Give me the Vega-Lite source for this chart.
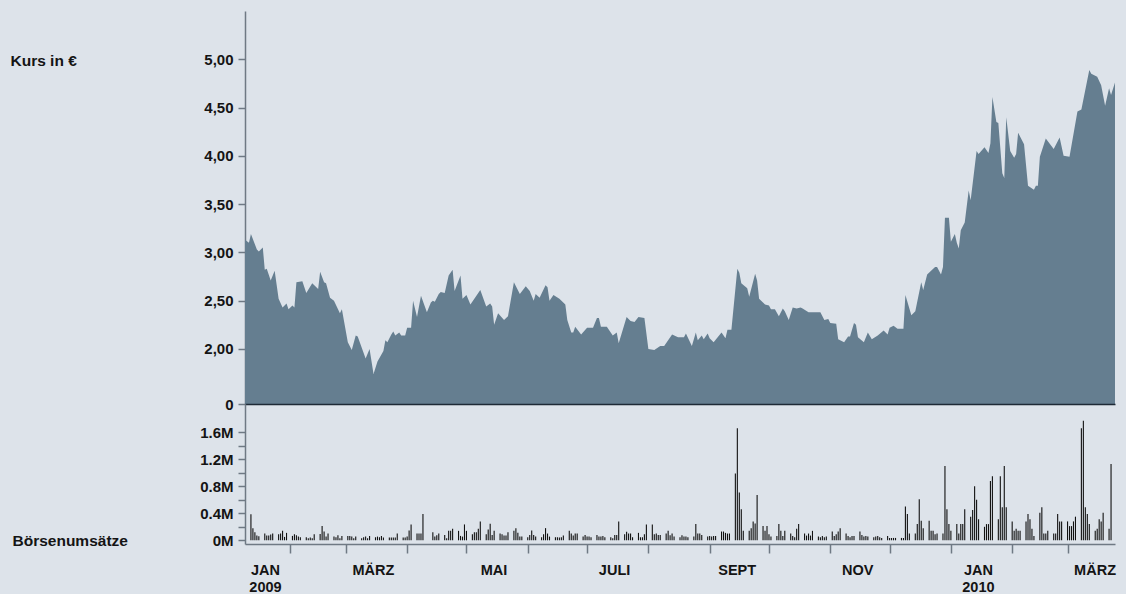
{
"$schema": "https://vega.github.io/schema/vega-lite/v6.json",
"background": "#dde3ea",
"padding": {"left": 10, "top": 11, "right": 10, "bottom": 0},
"bounds": "flush",
"spacing": 0,
"resolve": {"scale": {"x": "independent", "y": "independent"}},
"config": {
  "view": {"stroke": null},
  "font": "Liberation Sans",
  "axis": {"labelFont": "Liberation Sans", "labelFontWeight": "bold", "labelColor": "#141414", "titleFont": "Liberation Sans", "titleFontWeight": "bold", "titleColor": "#141414", "domainColor": "#6f7984", "tickColor": "#6f7984", "domainWidth": 1.5, "tickWidth": 1.5, "grid": false}
},
"datasets": {
"kurs": [
{"Datum":"2009-01-09","Kurs":3.13},{"Datum":"2009-01-11","Kurs":3.10},{"Datum":"2009-01-12","Kurs":3.19},{"Datum":"2009-01-15","Kurs":3.03},{"Datum":"2009-01-16","Kurs":3.01},{"Datum":"2009-01-18","Kurs":3.05},{"Datum":"2009-01-19","Kurs":2.82},{"Datum":"2009-01-20","Kurs":2.83},{"Datum":"2009-01-22","Kurs":2.71},{"Datum":"2009-01-24","Kurs":2.81},{"Datum":"2009-01-26","Kurs":2.52},{"Datum":"2009-01-28","Kurs":2.43},{"Datum":"2009-01-30","Kurs":2.47},{"Datum":"2009-01-31","Kurs":2.41},
{"Datum":"2009-02-02","Kurs":2.45},{"Datum":"2009-02-03","Kurs":2.43},{"Datum":"2009-02-04","Kurs":2.69},{"Datum":"2009-02-07","Kurs":2.70},{"Datum":"2009-02-09","Kurs":2.58},{"Datum":"2009-02-12","Kurs":2.68},{"Datum":"2009-02-15","Kurs":2.62},{"Datum":"2009-02-16","Kurs":2.80},{"Datum":"2009-02-18","Kurs":2.69},{"Datum":"2009-02-19","Kurs":2.68},{"Datum":"2009-02-21","Kurs":2.53},{"Datum":"2009-02-23","Kurs":2.50},{"Datum":"2009-02-26","Kurs":2.37},{"Datum":"2009-02-27","Kurs":2.41},
{"Datum":"2009-03-02","Kurs":2.07},{"Datum":"2009-03-04","Kurs":1.99},{"Datum":"2009-03-06","Kurs":2.14},{"Datum":"2009-03-07","Kurs":2.13},{"Datum":"2009-03-11","Kurs":1.90},{"Datum":"2009-03-13","Kurs":2.00},{"Datum":"2009-03-15","Kurs":1.74},{"Datum":"2009-03-17","Kurs":1.87},{"Datum":"2009-03-20","Kurs":1.98},{"Datum":"2009-03-21","Kurs":2.09},{"Datum":"2009-03-22","Kurs":2.07},{"Datum":"2009-03-24","Kurs":2.15},{"Datum":"2009-03-25","Kurs":2.18},{"Datum":"2009-03-26","Kurs":2.14},{"Datum":"2009-03-28","Kurs":2.17},{"Datum":"2009-03-29","Kurs":2.14},{"Datum":"2009-03-31","Kurs":2.14},
{"Datum":"2009-04-01","Kurs":2.22},{"Datum":"2009-04-03","Kurs":2.22},{"Datum":"2009-04-04","Kurs":2.50},{"Datum":"2009-04-06","Kurs":2.33},{"Datum":"2009-04-08","Kurs":2.55},{"Datum":"2009-04-11","Kurs":2.38},{"Datum":"2009-04-13","Kurs":2.48},{"Datum":"2009-04-14","Kurs":2.50},{"Datum":"2009-04-15","Kurs":2.49},{"Datum":"2009-04-17","Kurs":2.57},{"Datum":"2009-04-18","Kurs":2.59},{"Datum":"2009-04-20","Kurs":2.58},{"Datum":"2009-04-22","Kurs":2.76},{"Datum":"2009-04-24","Kurs":2.82},{"Datum":"2009-04-25","Kurs":2.60},{"Datum":"2009-04-28","Kurs":2.76},{"Datum":"2009-04-29","Kurs":2.52},
{"Datum":"2009-05-01","Kurs":2.56},{"Datum":"2009-05-03","Kurs":2.46},{"Datum":"2009-05-08","Kurs":2.61},{"Datum":"2009-05-11","Kurs":2.44},{"Datum":"2009-05-13","Kurs":2.47},{"Datum":"2009-05-14","Kurs":2.44},{"Datum":"2009-05-15","Kurs":2.25},{"Datum":"2009-05-17","Kurs":2.37},{"Datum":"2009-05-20","Kurs":2.30},{"Datum":"2009-05-22","Kurs":2.34},{"Datum":"2009-05-25","Kurs":2.69},{"Datum":"2009-05-28","Kurs":2.57},{"Datum":"2009-05-31","Kurs":2.65},
{"Datum":"2009-06-02","Kurs":2.60},{"Datum":"2009-06-04","Kurs":2.50},{"Datum":"2009-06-05","Kurs":2.57},{"Datum":"2009-06-07","Kurs":2.53},{"Datum":"2009-06-10","Kurs":2.66},{"Datum":"2009-06-11","Kurs":2.64},{"Datum":"2009-06-12","Kurs":2.50},{"Datum":"2009-06-14","Kurs":2.56},{"Datum":"2009-06-17","Kurs":2.52},{"Datum":"2009-06-20","Kurs":2.46},{"Datum":"2009-06-21","Kurs":2.30},{"Datum":"2009-06-23","Kurs":2.17},{"Datum":"2009-06-24","Kurs":2.17},{"Datum":"2009-06-25","Kurs":2.23},{"Datum":"2009-06-28","Kurs":2.15},
{"Datum":"2009-07-01","Kurs":2.22},{"Datum":"2009-07-04","Kurs":2.22},{"Datum":"2009-07-06","Kurs":2.32},{"Datum":"2009-07-07","Kurs":2.32},{"Datum":"2009-07-08","Kurs":2.23},{"Datum":"2009-07-11","Kurs":2.23},{"Datum":"2009-07-14","Kurs":2.14},{"Datum":"2009-07-16","Kurs":2.17},{"Datum":"2009-07-17","Kurs":2.06},{"Datum":"2009-07-21","Kurs":2.33},{"Datum":"2009-07-23","Kurs":2.29},{"Datum":"2009-07-25","Kurs":2.28},{"Datum":"2009-07-27","Kurs":2.33},{"Datum":"2009-07-30","Kurs":2.32},
{"Datum":"2009-08-01","Kurs":2.00},{"Datum":"2009-08-04","Kurs":1.99},{"Datum":"2009-08-07","Kurs":2.03},{"Datum":"2009-08-09","Kurs":2.03},{"Datum":"2009-08-13","Kurs":2.15},{"Datum":"2009-08-16","Kurs":2.12},{"Datum":"2009-08-19","Kurs":2.12},{"Datum":"2009-08-20","Kurs":2.16},{"Datum":"2009-08-23","Kurs":2.03},{"Datum":"2009-08-25","Kurs":2.17},{"Datum":"2009-08-26","Kurs":2.09},{"Datum":"2009-08-28","Kurs":2.14},{"Datum":"2009-08-29","Kurs":2.10},{"Datum":"2009-08-31","Kurs":2.16},
{"Datum":"2009-09-01","Kurs":2.11},{"Datum":"2009-09-03","Kurs":2.07},{"Datum":"2009-09-07","Kurs":2.17},{"Datum":"2009-09-09","Kurs":2.11},{"Datum":"2009-09-10","Kurs":2.20},{"Datum":"2009-09-12","Kurs":2.20},{"Datum":"2009-09-15","Kurs":2.83},{"Datum":"2009-09-16","Kurs":2.79},{"Datum":"2009-09-17","Kurs":2.68},{"Datum":"2009-09-20","Kurs":2.63},{"Datum":"2009-09-21","Kurs":2.54},{"Datum":"2009-09-24","Kurs":2.78},{"Datum":"2009-09-25","Kurs":2.71},{"Datum":"2009-09-26","Kurs":2.52},{"Datum":"2009-09-29","Kurs":2.46},
{"Datum":"2009-10-01","Kurs":2.45},{"Datum":"2009-10-02","Kurs":2.41},{"Datum":"2009-10-04","Kurs":2.41},{"Datum":"2009-10-06","Kurs":2.34},{"Datum":"2009-10-08","Kurs":2.42},{"Datum":"2009-10-09","Kurs":2.39},{"Datum":"2009-10-11","Kurs":2.30},{"Datum":"2009-10-13","Kurs":2.43},{"Datum":"2009-10-15","Kurs":2.42},{"Datum":"2009-10-17","Kurs":2.43},{"Datum":"2009-10-18","Kurs":2.42},{"Datum":"2009-10-21","Kurs":2.38},{"Datum":"2009-10-27","Kurs":2.38},{"Datum":"2009-10-29","Kurs":2.30},{"Datum":"2009-10-31","Kurs":2.31},
{"Datum":"2009-11-01","Kurs":2.27},{"Datum":"2009-11-04","Kurs":2.26},{"Datum":"2009-11-05","Kurs":2.10},{"Datum":"2009-11-08","Kurs":2.07},{"Datum":"2009-11-10","Kurs":2.13},{"Datum":"2009-11-11","Kurs":2.13},{"Datum":"2009-11-13","Kurs":2.27},{"Datum":"2009-11-14","Kurs":2.25},{"Datum":"2009-11-15","Kurs":2.12},{"Datum":"2009-11-18","Kurs":2.07},{"Datum":"2009-11-20","Kurs":2.17},{"Datum":"2009-11-22","Kurs":2.10},{"Datum":"2009-11-25","Kurs":2.14},{"Datum":"2009-11-28","Kurs":2.19},{"Datum":"2009-11-30","Kurs":2.15},
{"Datum":"2009-12-01","Kurs":2.22},{"Datum":"2009-12-03","Kurs":2.24},{"Datum":"2009-12-05","Kurs":2.21},{"Datum":"2009-12-08","Kurs":2.21},{"Datum":"2009-12-09","Kurs":2.56},{"Datum":"2009-12-12","Kurs":2.35},{"Datum":"2009-12-14","Kurs":2.39},{"Datum":"2009-12-17","Kurs":2.69},{"Datum":"2009-12-18","Kurs":2.61},{"Datum":"2009-12-20","Kurs":2.77},{"Datum":"2009-12-24","Kurs":2.85},{"Datum":"2009-12-25","Kurs":2.85},{"Datum":"2009-12-27","Kurs":2.77},{"Datum":"2009-12-28","Kurs":2.85},{"Datum":"2009-12-29","Kurs":3.36},{"Datum":"2009-12-31","Kurs":3.36},
{"Datum":"2010-01-01","Kurs":3.11},{"Datum":"2010-01-03","Kurs":3.19},{"Datum":"2010-01-04","Kurs":3.10},{"Datum":"2010-01-05","Kurs":3.04},{"Datum":"2010-01-06","Kurs":3.23},{"Datum":"2010-01-08","Kurs":3.31},{"Datum":"2010-01-10","Kurs":3.64},{"Datum":"2010-01-11","Kurs":3.54},{"Datum":"2010-01-14","Kurs":4.05},{"Datum":"2010-01-15","Kurs":4.02},{"Datum":"2010-01-18","Kurs":4.09},{"Datum":"2010-01-20","Kurs":4.03},{"Datum":"2010-01-21","Kurs":4.13},{"Datum":"2010-01-22","Kurs":4.61},{"Datum":"2010-01-24","Kurs":4.35},{"Datum":"2010-01-25","Kurs":4.34},{"Datum":"2010-01-27","Kurs":3.82},{"Datum":"2010-01-28","Kurs":3.77},{"Datum":"2010-01-29","Kurs":4.40},{"Datum":"2010-01-31","Kurs":4.05},
{"Datum":"2010-02-02","Kurs":3.98},{"Datum":"2010-02-03","Kurs":4.02},{"Datum":"2010-02-04","Kurs":4.24},{"Datum":"2010-02-07","Kurs":4.12},{"Datum":"2010-02-09","Kurs":3.69},{"Datum":"2010-02-12","Kurs":3.65},{"Datum":"2010-02-13","Kurs":3.69},{"Datum":"2010-02-14","Kurs":3.69},{"Datum":"2010-02-15","Kurs":3.99},{"Datum":"2010-02-18","Kurs":4.18},{"Datum":"2010-02-22","Kurs":4.07},{"Datum":"2010-02-25","Kurs":4.19},{"Datum":"2010-02-27","Kurs":4.00},
{"Datum":"2010-03-02","Kurs":3.99},{"Datum":"2010-03-06","Kurs":4.46},{"Datum":"2010-03-08","Kurs":4.48},{"Datum":"2010-03-12","Kurs":4.89},{"Datum":"2010-03-13","Kurs":4.85},{"Datum":"2010-03-16","Kurs":4.82},{"Datum":"2010-03-18","Kurs":4.73},{"Datum":"2010-03-20","Kurs":4.52},{"Datum":"2010-03-22","Kurs":4.70},{"Datum":"2010-03-23","Kurs":4.63},{"Datum":"2010-03-25","Kurs":4.76}
],
"umsatz": [
{"Datum":"2009-01-12","Umsatz":0.385},{"Datum":"2009-01-13","Umsatz":0.18},{"Datum":"2009-01-14","Umsatz":0.12},{"Datum":"2009-01-15","Umsatz":0.07},{"Datum":"2009-01-16","Umsatz":0.06},
{"Datum":"2009-01-19","Umsatz":0.10},{"Datum":"2009-01-20","Umsatz":0.07},{"Datum":"2009-01-21","Umsatz":0.07},{"Datum":"2009-01-22","Umsatz":0.085},{"Datum":"2009-01-23","Umsatz":0.10},
{"Datum":"2009-01-26","Umsatz":0.09},{"Datum":"2009-01-27","Umsatz":0.10},{"Datum":"2009-01-28","Umsatz":0.14},{"Datum":"2009-01-29","Umsatz":0.05},{"Datum":"2009-01-30","Umsatz":0.11},
{"Datum":"2009-02-02","Umsatz":0.065},{"Datum":"2009-02-03","Umsatz":0.09},{"Datum":"2009-02-04","Umsatz":0.075},{"Datum":"2009-02-05","Umsatz":0.055},{"Datum":"2009-02-06","Umsatz":0.045},
{"Datum":"2009-02-09","Umsatz":0.045},{"Datum":"2009-02-10","Umsatz":0.03},{"Datum":"2009-02-11","Umsatz":0.04},{"Datum":"2009-02-12","Umsatz":0.03},{"Datum":"2009-02-13","Umsatz":0.09},
{"Datum":"2009-02-16","Umsatz":0.095},{"Datum":"2009-02-17","Umsatz":0.21},{"Datum":"2009-02-18","Umsatz":0.13},{"Datum":"2009-02-19","Umsatz":0.055},{"Datum":"2009-02-20","Umsatz":0.10},
{"Datum":"2009-02-23","Umsatz":0.055},{"Datum":"2009-02-24","Umsatz":0.045},{"Datum":"2009-02-25","Umsatz":0.075},{"Datum":"2009-02-26","Umsatz":0.03},{"Datum":"2009-02-27","Umsatz":0.065},
{"Datum":"2009-03-02","Umsatz":0.065},{"Datum":"2009-03-03","Umsatz":0.065},{"Datum":"2009-03-04","Umsatz":0.055},{"Datum":"2009-03-05","Umsatz":0.03},{"Datum":"2009-03-06","Umsatz":0.055},
{"Datum":"2009-03-09","Umsatz":0.03},{"Datum":"2009-03-10","Umsatz":0.045},{"Datum":"2009-03-11","Umsatz":0.055},{"Datum":"2009-03-12","Umsatz":0.03},{"Datum":"2009-03-13","Umsatz":0.065},
{"Datum":"2009-03-16","Umsatz":0.045},{"Datum":"2009-03-17","Umsatz":0.055},{"Datum":"2009-03-18","Umsatz":0.045},{"Datum":"2009-03-19","Umsatz":0.065},{"Datum":"2009-03-20","Umsatz":0.04},
{"Datum":"2009-03-23","Umsatz":0.04},{"Datum":"2009-03-24","Umsatz":0.04},{"Datum":"2009-03-25","Umsatz":0.04},{"Datum":"2009-03-26","Umsatz":0.04},{"Datum":"2009-03-27","Umsatz":0.10},
{"Datum":"2009-03-30","Umsatz":0.04},{"Datum":"2009-03-31","Umsatz":0.04},{"Datum":"2009-04-01","Umsatz":0.055},{"Datum":"2009-04-02","Umsatz":0.145},{"Datum":"2009-04-03","Umsatz":0.235},
{"Datum":"2009-04-06","Umsatz":0.10},{"Datum":"2009-04-07","Umsatz":0.10},{"Datum":"2009-04-08","Umsatz":0.10},{"Datum":"2009-04-09","Umsatz":0.39},
{"Datum":"2009-04-14","Umsatz":0.12},{"Datum":"2009-04-15","Umsatz":0.055},{"Datum":"2009-04-16","Umsatz":0.075},{"Datum":"2009-04-17","Umsatz":0.10},
{"Datum":"2009-04-20","Umsatz":0.08},{"Datum":"2009-04-21","Umsatz":0.03},{"Datum":"2009-04-22","Umsatz":0.14},{"Datum":"2009-04-23","Umsatz":0.14},{"Datum":"2009-04-24","Umsatz":0.17},
{"Datum":"2009-04-27","Umsatz":0.14},{"Datum":"2009-04-28","Umsatz":0.065},{"Datum":"2009-04-29","Umsatz":0.055},{"Datum":"2009-04-30","Umsatz":0.235},{"Datum":"2009-05-01","Umsatz":0.14},
{"Datum":"2009-05-04","Umsatz":0.09},{"Datum":"2009-05-05","Umsatz":0.12},{"Datum":"2009-05-06","Umsatz":0.12},{"Datum":"2009-05-07","Umsatz":0.17},{"Datum":"2009-05-08","Umsatz":0.28},
{"Datum":"2009-05-11","Umsatz":0.09},{"Datum":"2009-05-12","Umsatz":0.16},{"Datum":"2009-05-13","Umsatz":0.245},{"Datum":"2009-05-14","Umsatz":0.08},{"Datum":"2009-05-15","Umsatz":0.14},
{"Datum":"2009-05-18","Umsatz":0.10},{"Datum":"2009-05-19","Umsatz":0.09},{"Datum":"2009-05-20","Umsatz":0.07},{"Datum":"2009-05-21","Umsatz":0.07},{"Datum":"2009-05-22","Umsatz":0.12},
{"Datum":"2009-05-25","Umsatz":0.14},{"Datum":"2009-05-26","Umsatz":0.18},{"Datum":"2009-05-27","Umsatz":0.11},{"Datum":"2009-05-28","Umsatz":0.055},{"Datum":"2009-05-29","Umsatz":0.055},
{"Datum":"2009-06-01","Umsatz":0.045},{"Datum":"2009-06-02","Umsatz":0.08},{"Datum":"2009-06-03","Umsatz":0.145},{"Datum":"2009-06-04","Umsatz":0.08},{"Datum":"2009-06-05","Umsatz":0.055},
{"Datum":"2009-06-08","Umsatz":0.045},{"Datum":"2009-06-09","Umsatz":0.09},{"Datum":"2009-06-10","Umsatz":0.18},{"Datum":"2009-06-11","Umsatz":0.10},{"Datum":"2009-06-12","Umsatz":0.055},
{"Datum":"2009-06-15","Umsatz":0.045},{"Datum":"2009-06-16","Umsatz":0.045},{"Datum":"2009-06-17","Umsatz":0.04},{"Datum":"2009-06-18","Umsatz":0.045},{"Datum":"2009-06-19","Umsatz":0.07},
{"Datum":"2009-06-22","Umsatz":0.14},{"Datum":"2009-06-23","Umsatz":0.10},{"Datum":"2009-06-24","Umsatz":0.07},{"Datum":"2009-06-25","Umsatz":0.10},{"Datum":"2009-06-26","Umsatz":0.10},
{"Datum":"2009-06-29","Umsatz":0.055},{"Datum":"2009-06-30","Umsatz":0.08},{"Datum":"2009-07-01","Umsatz":0.055},{"Datum":"2009-07-02","Umsatz":0.055},{"Datum":"2009-07-03","Umsatz":0.045},
{"Datum":"2009-07-06","Umsatz":0.08},{"Datum":"2009-07-07","Umsatz":0.055},{"Datum":"2009-07-08","Umsatz":0.055},{"Datum":"2009-07-09","Umsatz":0.065},{"Datum":"2009-07-10","Umsatz":0.045},
{"Datum":"2009-07-13","Umsatz":0.045},{"Datum":"2009-07-14","Umsatz":0.03},{"Datum":"2009-07-15","Umsatz":0.08},{"Datum":"2009-07-16","Umsatz":0.08},{"Datum":"2009-07-17","Umsatz":0.28},
{"Datum":"2009-07-20","Umsatz":0.09},{"Datum":"2009-07-21","Umsatz":0.125},{"Datum":"2009-07-22","Umsatz":0.10},{"Datum":"2009-07-23","Umsatz":0.10},{"Datum":"2009-07-24","Umsatz":0.045},
{"Datum":"2009-07-27","Umsatz":0.11},{"Datum":"2009-07-28","Umsatz":0.045},{"Datum":"2009-07-29","Umsatz":0.045},{"Datum":"2009-07-30","Umsatz":0.09},{"Datum":"2009-07-31","Umsatz":0.235},
{"Datum":"2009-08-03","Umsatz":0.235},{"Datum":"2009-08-04","Umsatz":0.09},{"Datum":"2009-08-05","Umsatz":0.10},{"Datum":"2009-08-06","Umsatz":0.08},{"Datum":"2009-08-07","Umsatz":0.08},
{"Datum":"2009-08-10","Umsatz":0.10},{"Datum":"2009-08-11","Umsatz":0.14},{"Datum":"2009-08-12","Umsatz":0.075},{"Datum":"2009-08-13","Umsatz":0.10},{"Datum":"2009-08-14","Umsatz":0.055},
{"Datum":"2009-08-17","Umsatz":0.045},{"Datum":"2009-08-18","Umsatz":0.075},{"Datum":"2009-08-19","Umsatz":0.055},{"Datum":"2009-08-20","Umsatz":0.055},{"Datum":"2009-08-21","Umsatz":0.045},
{"Datum":"2009-08-24","Umsatz":0.055},{"Datum":"2009-08-25","Umsatz":0.24},{"Datum":"2009-08-26","Umsatz":0.10},{"Datum":"2009-08-27","Umsatz":0.10},{"Datum":"2009-08-28","Umsatz":0.08},
{"Datum":"2009-08-31","Umsatz":0.055},{"Datum":"2009-09-01","Umsatz":0.065},{"Datum":"2009-09-02","Umsatz":0.055},{"Datum":"2009-09-03","Umsatz":0.065},{"Datum":"2009-09-04","Umsatz":0.065},
{"Datum":"2009-09-07","Umsatz":0.13},{"Datum":"2009-09-08","Umsatz":0.13},{"Datum":"2009-09-09","Umsatz":0.11},{"Datum":"2009-09-10","Umsatz":0.10},{"Datum":"2009-09-11","Umsatz":0.10},
{"Datum":"2009-09-14","Umsatz":0.99},{"Datum":"2009-09-15","Umsatz":1.66},{"Datum":"2009-09-16","Umsatz":0.71},{"Datum":"2009-09-17","Umsatz":0.46},{"Datum":"2009-09-18","Umsatz":0.14},
{"Datum":"2009-09-21","Umsatz":0.14},{"Datum":"2009-09-22","Umsatz":0.18},{"Datum":"2009-09-23","Umsatz":0.28},{"Datum":"2009-09-24","Umsatz":0.25},{"Datum":"2009-09-25","Umsatz":0.67},
{"Datum":"2009-09-28","Umsatz":0.21},{"Datum":"2009-09-29","Umsatz":0.14},{"Datum":"2009-09-30","Umsatz":0.21},{"Datum":"2009-10-01","Umsatz":0.09},{"Datum":"2009-10-02","Umsatz":0.055},
{"Datum":"2009-10-05","Umsatz":0.065},{"Datum":"2009-10-06","Umsatz":0.24},{"Datum":"2009-10-07","Umsatz":0.14},{"Datum":"2009-10-08","Umsatz":0.065},{"Datum":"2009-10-09","Umsatz":0.14},
{"Datum":"2009-10-12","Umsatz":0.10},{"Datum":"2009-10-13","Umsatz":0.065},{"Datum":"2009-10-14","Umsatz":0.045},{"Datum":"2009-10-15","Umsatz":0.17},{"Datum":"2009-10-16","Umsatz":0.24},
{"Datum":"2009-10-19","Umsatz":0.10},{"Datum":"2009-10-20","Umsatz":0.07},{"Datum":"2009-10-21","Umsatz":0.10},{"Datum":"2009-10-22","Umsatz":0.07},{"Datum":"2009-10-23","Umsatz":0.14},
{"Datum":"2009-10-26","Umsatz":0.055},{"Datum":"2009-10-27","Umsatz":0.045},{"Datum":"2009-10-28","Umsatz":0.065},{"Datum":"2009-10-29","Umsatz":0.045},{"Datum":"2009-10-30","Umsatz":0.055},
{"Datum":"2009-11-02","Umsatz":0.13},{"Datum":"2009-11-03","Umsatz":0.065},{"Datum":"2009-11-04","Umsatz":0.09},{"Datum":"2009-11-05","Umsatz":0.13},{"Datum":"2009-11-06","Umsatz":0.18},
{"Datum":"2009-11-09","Umsatz":0.10},{"Datum":"2009-11-10","Umsatz":0.065},{"Datum":"2009-11-11","Umsatz":0.045},{"Datum":"2009-11-12","Umsatz":0.065},{"Datum":"2009-11-13","Umsatz":0.065},
{"Datum":"2009-11-16","Umsatz":0.13},{"Datum":"2009-11-17","Umsatz":0.08},{"Datum":"2009-11-18","Umsatz":0.055},{"Datum":"2009-11-19","Umsatz":0.065},{"Datum":"2009-11-20","Umsatz":0.055},
{"Datum":"2009-11-23","Umsatz":0.045},{"Datum":"2009-11-24","Umsatz":0.055},{"Datum":"2009-11-25","Umsatz":0.065},{"Datum":"2009-11-26","Umsatz":0.045},{"Datum":"2009-11-27","Umsatz":0.035},
{"Datum":"2009-11-30","Umsatz":0.065},{"Datum":"2009-12-01","Umsatz":0.035},{"Datum":"2009-12-02","Umsatz":0.035},{"Datum":"2009-12-03","Umsatz":0.035},{"Datum":"2009-12-04","Umsatz":0.035},
{"Datum":"2009-12-07","Umsatz":0.035},{"Datum":"2009-12-08","Umsatz":0.035},{"Datum":"2009-12-09","Umsatz":0.50},{"Datum":"2009-12-10","Umsatz":0.39},{"Datum":"2009-12-11","Umsatz":0.10},
{"Datum":"2009-12-14","Umsatz":0.10},{"Datum":"2009-12-15","Umsatz":0.24},{"Datum":"2009-12-16","Umsatz":0.61},{"Datum":"2009-12-17","Umsatz":0.29},{"Datum":"2009-12-18","Umsatz":0.18},
{"Datum":"2009-12-21","Umsatz":0.29},{"Datum":"2009-12-22","Umsatz":0.14},{"Datum":"2009-12-23","Umsatz":0.14},{"Datum":"2009-12-24","Umsatz":0.09},{"Datum":"2009-12-25","Umsatz":0.10},
{"Datum":"2009-12-28","Umsatz":0.10},{"Datum":"2009-12-29","Umsatz":1.10},{"Datum":"2009-12-30","Umsatz":0.46},{"Datum":"2009-12-31","Umsatz":0.24},{"Datum":"2010-01-01","Umsatz":0.14},
{"Datum":"2010-01-04","Umsatz":0.24},{"Datum":"2010-01-05","Umsatz":0.10},{"Datum":"2010-01-06","Umsatz":0.24},{"Datum":"2010-01-07","Umsatz":0.24},{"Datum":"2010-01-08","Umsatz":0.46},
{"Datum":"2010-01-11","Umsatz":0.35},{"Datum":"2010-01-12","Umsatz":0.45},{"Datum":"2010-01-13","Umsatz":0.80},{"Datum":"2010-01-14","Umsatz":0.60},{"Datum":"2010-01-15","Umsatz":0.31},
{"Datum":"2010-01-18","Umsatz":0.20},{"Datum":"2010-01-19","Umsatz":0.24},{"Datum":"2010-01-20","Umsatz":0.24},{"Datum":"2010-01-21","Umsatz":0.88},{"Datum":"2010-01-22","Umsatz":0.95},
{"Datum":"2010-01-25","Umsatz":0.31},{"Datum":"2010-01-26","Umsatz":0.95},{"Datum":"2010-01-27","Umsatz":0.49},{"Datum":"2010-01-28","Umsatz":1.10},{"Datum":"2010-01-29","Umsatz":0.49},
{"Datum":"2010-02-01","Umsatz":0.28},{"Datum":"2010-02-02","Umsatz":0.14},{"Datum":"2010-02-03","Umsatz":0.17},{"Datum":"2010-02-04","Umsatz":0.14},{"Datum":"2010-02-05","Umsatz":0.14},
{"Datum":"2010-02-08","Umsatz":0.28},{"Datum":"2010-02-09","Umsatz":0.39},{"Datum":"2010-02-10","Umsatz":0.31},{"Datum":"2010-02-11","Umsatz":0.17},{"Datum":"2010-02-12","Umsatz":0.065},
{"Datum":"2010-02-15","Umsatz":0.41},{"Datum":"2010-02-16","Umsatz":0.49},{"Datum":"2010-02-17","Umsatz":0.10},{"Datum":"2010-02-18","Umsatz":0.10},{"Datum":"2010-02-19","Umsatz":0.14},
{"Datum":"2010-02-22","Umsatz":0.10},{"Datum":"2010-02-23","Umsatz":0.10},{"Datum":"2010-02-24","Umsatz":0.39},{"Datum":"2010-02-25","Umsatz":0.28},{"Datum":"2010-02-26","Umsatz":0.28},
{"Datum":"2010-03-01","Umsatz":0.28},{"Datum":"2010-03-02","Umsatz":0.21},{"Datum":"2010-03-03","Umsatz":0.21},{"Datum":"2010-03-04","Umsatz":0.28},{"Datum":"2010-03-05","Umsatz":0.35},
{"Datum":"2010-03-08","Umsatz":1.66},{"Datum":"2010-03-09","Umsatz":1.77},{"Datum":"2010-03-10","Umsatz":0.49},{"Datum":"2010-03-11","Umsatz":0.39},{"Datum":"2010-03-12","Umsatz":0.24},
{"Datum":"2010-03-15","Umsatz":0.14},{"Datum":"2010-03-16","Umsatz":0.17},{"Datum":"2010-03-17","Umsatz":0.31},{"Datum":"2010-03-18","Umsatz":0.28},{"Datum":"2010-03-19","Umsatz":0.41},
{"Datum":"2010-03-22","Umsatz":0.17},{"Datum":"2010-03-23","Umsatz":1.13}
]
},
"vconcat": [
{
  "width": 870, "height": 393,
  "data": {"name": "kurs"},
  "mark": {"type": "area", "color": "#657e90", "clip": true, "interpolate": "linear"},
  "encoding": {
    "x": {"field": "Datum", "type": "temporal",
      "scale": {"type": "utc", "nice": false, "domain": [{"year": 2009, "month": 1, "date": 9, "utc": true}, {"year": 2010, "month": 3, "date": 25, "utc": true}]},
      "axis": {"labels": false, "ticks": false, "title": null, "domainColor": "#1e2a36", "domainWidth": 1.5, "zindex": 1}},
    "y": {"field": "Kurs", "type": "quantitative",
      "scale": {"domain": [1.43, 5.5], "zero": false, "nice": false},
      "axis": {"values": [1.43, 2, 2.5, 3, 3.5, 4, 4.5, 5],
        "labelExpr": "datum.value < 1.5 ? '0' : replace(format(datum.value, '.2f'), '.', ',')",
        "tickSize": 7, "labelPadding": 5, "labelFontSize": 15,
        "title": "Kurs in €", "titleAngle": 0, "titleAlign": "left", "titleBaseline": "middle", "titleX": -235, "titleY": 49, "titleFontSize": 15.5}}
  }
},
{
  "width": 870, "height": 140,
  "data": {"name": "umsatz"},
  "mark": {"type": "rule", "color": "#111111", "strokeWidth": 1.1},
  "encoding": {
    "x": {"field": "Datum", "type": "temporal",
      "scale": {"type": "utc", "nice": false, "domain": [{"year": 2009, "month": 1, "date": 9, "utc": true}, {"year": 2010, "month": 3, "date": 25, "utc": true}]},
      "axis": {
        "values": [
          {"year": 2009, "month": 1, "date": 10, "utc": true}, {"year": 2009, "month": 2, "date": 1, "utc": true}, {"year": 2009, "month": 3, "date": 1, "utc": true},
          {"year": 2009, "month": 4, "date": 1, "utc": true}, {"year": 2009, "month": 5, "date": 1, "utc": true}, {"year": 2009, "month": 6, "date": 1, "utc": true},
          {"year": 2009, "month": 7, "date": 1, "utc": true}, {"year": 2009, "month": 8, "date": 1, "utc": true}, {"year": 2009, "month": 9, "date": 1, "utc": true},
          {"year": 2009, "month": 10, "date": 1, "utc": true}, {"year": 2009, "month": 11, "date": 1, "utc": true}, {"year": 2009, "month": 12, "date": 1, "utc": true},
          {"year": 2010, "month": 1, "date": 1, "utc": true}, {"year": 2010, "month": 2, "date": 1, "utc": true}, {"year": 2010, "month": 3, "date": 1, "utc": true}],
        "labelExpr": "utcmonth(datum.value) == 0 ? ['JAN', '' + utcyear(datum.value)] : utcmonth(datum.value) == 2 ? 'MÄRZ' : utcmonth(datum.value) == 4 ? 'MAI' : utcmonth(datum.value) == 6 ? 'JULI' : utcmonth(datum.value) == 8 ? 'SEPT' : utcmonth(datum.value) == 10 ? 'NOV' : ''",
        "labelOffset": {"condition": {"test": "utcyear(datum.value) == 2009 && utcmonth(datum.value) == 0", "value": 18}, "value": 27},
        "tickOpacity": {"condition": {"test": "utcyear(datum.value) == 2009 && utcmonth(datum.value) == 0", "value": 0}, "value": 1},
        "labelOverlap": false, "labelFlush": false, "labelBound": false,
        "tickSize": 9, "labelPadding": 10, "labelFontSize": 14.5, "labelLineHeight": 17,
        "title": null}},
    "y": {"field": "Umsatz", "type": "quantitative",
      "scale": {"domain": [-0.055, 2.02], "zero": false, "nice": false},
      "axis": {"values": [0, 0.2, 0.4, 0.6, 0.8, 1, 1.2, 1.4, 1.6],
        "labelExpr": "datum.value == 0 ? '0M' : (round(datum.value * 10) % 4 == 0 ? format(datum.value, '.1f') + 'M' : '')",
        "tickSize": 7, "labelPadding": 5, "labelFontSize": 15,
        "title": "Börsenumsätze", "titleAngle": 0, "titleAlign": "left", "titleBaseline": "middle", "titleX": -233, "titleY": 136, "titleFontSize": 15.5}},
    "y2": {"datum": 0}
  }
}
]
}
